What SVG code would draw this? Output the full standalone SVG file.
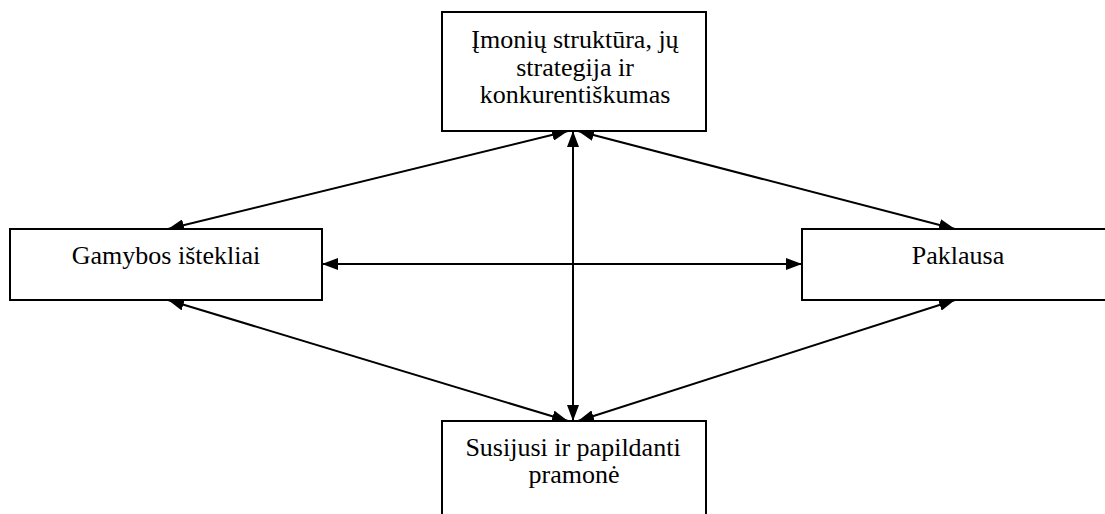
<svg xmlns="http://www.w3.org/2000/svg" width="1105" height="514" viewBox="0 0 1105 514">
<style>
.box{fill:#fff;stroke:#000;stroke-width:2}
.lbl{font-family:"Liberation Serif","Times New Roman",serif;font-size:26px;fill:#000;text-anchor:middle}
.con{stroke:#000;stroke-width:2;fill:none;marker-start:url(#ah);marker-end:url(#ah)}
</style>
<defs>
<marker id="ah" markerUnits="userSpaceOnUse" markerWidth="16" markerHeight="12" refX="16" refY="6" orient="auto-start-reverse" viewBox="0 0 16 12">
<path d="M0,0 L16,6 L0,12 z" fill="#000"/>
</marker>
</defs>
<rect width="1105" height="514" fill="#fff"/>
<g id="connectors">
<line class="con" x1="573" y1="131" x2="573" y2="421"/>
<line class="con" x1="568" y1="131" x2="168" y2="229"/>
<line class="con" x1="578" y1="131" x2="955" y2="229"/>
<line class="con" x1="168" y1="300" x2="568" y2="421"/>
<line class="con" x1="955" y1="300" x2="578" y2="421"/>
<line class="con" x1="322" y1="264" x2="802" y2="264"/>
</g>
<g id="node-imoniu">
<rect class="box" x="442" y="12" width="264" height="119"/>
<text class="lbl" x="575" y="48">Įmonių struktūra, jų</text>
<text class="lbl" x="575" y="75.5">strategija ir</text>
<text class="lbl" x="575" y="103">konkurentiškumas</text>
</g>
<g id="node-gamybos">
<rect class="box" x="10" y="229" width="312" height="71"/>
<text class="lbl" x="166" y="264">Gamybos ištekliai</text>
</g>
<g id="node-paklausa">
<rect class="box" x="802" y="229" width="320" height="71"/>
<text class="lbl" x="958" y="264">Paklausa</text>
</g>
<g id="node-susijusi">
<rect class="box" x="442" y="421" width="264" height="100"/>
<text class="lbl" x="573" y="456">Susijusi ir papildanti</text>
<text class="lbl" x="574" y="483">pramonė</text>
</g>
</svg>
